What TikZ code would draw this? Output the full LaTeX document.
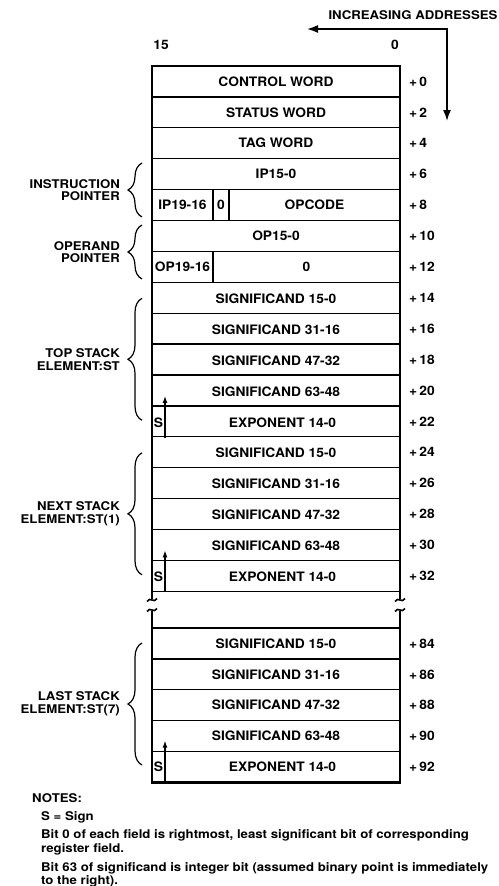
\documentclass[tikz,border=0pt]{standalone}
\usepackage{fontspec}
\setmainfont[FakeStretch=1.06]{TeX Gyre Heros}
\newfontfamily\wideheros[FakeStretch=1.1]{TeX Gyre Heros}
\usetikzlibrary{arrows.meta,positioning,decorations.pathreplacing}
\newcommand{\cellfont}{\fontsize{13}{14}\selectfont\bfseries}
\newcommand{\labfont}{\wideheros\fontsize{12}{12.7}\selectfont\bfseries}
\newcommand{\notefont}{\wideheros\fontsize{12}{14}\selectfont\bfseries}
\newcommand{\rowh}{30.9}

\begin{document}
\begin{tikzpicture}[x=1pt,y=-1pt,
  cell/.style={inner sep=0pt,font=\cellfont},
  offs/.style={anchor=west,inner sep=0pt,font=\cellfont},
  grp/.style={anchor=east,align=right,inner sep=0pt,font=\labfont},
  note/.style={anchor=base west,inner sep=0pt,font=\notefont},
  brc/.style={decorate,decoration={brace,amplitude=14pt},line width=1.2pt},
  frame/.style={line width=2.8pt},
  rule/.style={line width=1.3pt},
  sarr/.style={-{Latex[length=7pt,width=5pt]},line width=1.3pt}]
\useasboundingbox (0,0) rectangle (498,886);
% heading
\node[font=\labfont,inner sep=0pt] (inc) at (413,15) {INCREASING ADDRESSES};
\coordinate (al) at (307,29);
\coordinate (ac) at (447,29);
\coordinate (ad) at (447,121);
\draw[{Latex[length=11pt,width=8pt]}-{Latex[length=11pt,width=8pt]},line width=1.6pt] (al) -- (ac) -- (ad);
\node[font=\cellfont,inner sep=0pt] (b15) at (161,45) {15};
\node[font=\cellfont,inner sep=0pt] (b0) at (395,45) {0};
% rules and frame
\foreach \i in {1,...,17}
  \draw[rule] (152,66+\rowh*\i) -- (400,66+\rowh*\i);
\foreach \j in {0,...,4}
  \draw[rule] (152,628+\rowh*\j) -- (400,628+\rowh*\j);
\draw[frame] (152,599) -- (152,66) -- (400,66) -- (400,599);
\draw[frame] (152,611) -- (152,782.5) -- (400,782.5) -- (400,611);
\foreach \x in {152,400}
  \foreach \y in {600,610}
    \draw[line width=1.6pt] (\x-5,\y+1.5) .. controls (\x-2,\y-4) and (\x+2,\y+4) .. (\x+5,\y-1.5);
% fixed rows
\node[cell] (cw) at (276,81.45) {CONTROL WORD};
\node[cell] (sw) at (276,112.35) {STATUS WORD};
\node[cell] (tw) at (276,143.25) {TAG WORD};
\node[cell] (ipl) at (276,174.15) {IP15-0};
\node[cell] (iph) at (182.5,205.05) {IP19-16};
\node[cell] (ipz) at (221,205.05) {0};
\node[cell] (opc) at (314.5,205.05) {OPCODE};
\node[cell] (opl) at (276,235.95) {OP15-0};
\node[cell] (oph) at (182.5,266.85) {OP19-16};
\node[cell] (opz) at (306.5,266.85) {0};
\draw[rule] (213,189.6) -- (213,220.5);
\draw[rule] (229,189.6) -- (229,220.5);
\draw[rule] (213,251.4) -- (213,282.3);
\draw[brc] (142,217) -- (142,163);
\node[grp] (ipt) at (120,190) {INSTRUCTION\\POINTER};
\draw[brc] (142,279) -- (142,225);
\node[grp] (opt) at (120,252) {OPERAND\\POINTER};
% offsets
\foreach \o [count=\i from 0] in {0,2,...,32}
  \node[offs] (o\o) at (409,81.45+\rowh*\i) {+\,\o};
\foreach \o [count=\j from 0] in {84,86,...,92}
  \node[offs] (o\o) at (409,643.45+\rowh*\j) {+\,\o};
% stack elements
\foreach \ytop/\n/\lab in {283.3/1/{TOP STACK\\ELEMENT:ST},437.8/2/{NEXT STACK\\ELEMENT:ST(1)},628/3/{LAST STACK\\ELEMENT:ST(7)}} {
  \foreach \bits [count=\k from 0] in {15-0,31-16,47-32,63-48}
    \node[cell] (sig\n\k) at (276,\ytop+15.45+\rowh*\k) {SIGNIFICAND \bits};
  \node[cell] (sgn\n) at (158.5,\ytop+139.05) {S};
  \node[cell] (exp\n) at (282.5,\ytop+139.05) {EXPONENT 14-0};
  \coordinate (bot\n) at (165,\ytop+154.5);
  \coordinate (tip\n) at (165,\ytop+112.6);
  \draw[sarr] (bot\n) -- (tip\n);
  \draw[brc] (142,\ytop+137) -- (142,\ytop+15);
  \node[grp] (grp\n) at (120,\ytop+76) {\lab};
}
% notes
\node[note] (notes) at (32,802.5) {NOTES:};
\node[note] (n1) at (41,820.5) {S = Sign};
\node[note] (n2) at (41,838.5) {Bit 0 of each field is rightmost, least significant bit of corresponding};
\node[note] (n2b) at (41,852.5) {register field.};
\node[note] (n3) at (41,871.5) {Bit 63 of significand is integer bit (assumed binary point is immediately};
\node[note] (n3b) at (41,884.5) {to the right).};
\end{tikzpicture}
\end{document}
